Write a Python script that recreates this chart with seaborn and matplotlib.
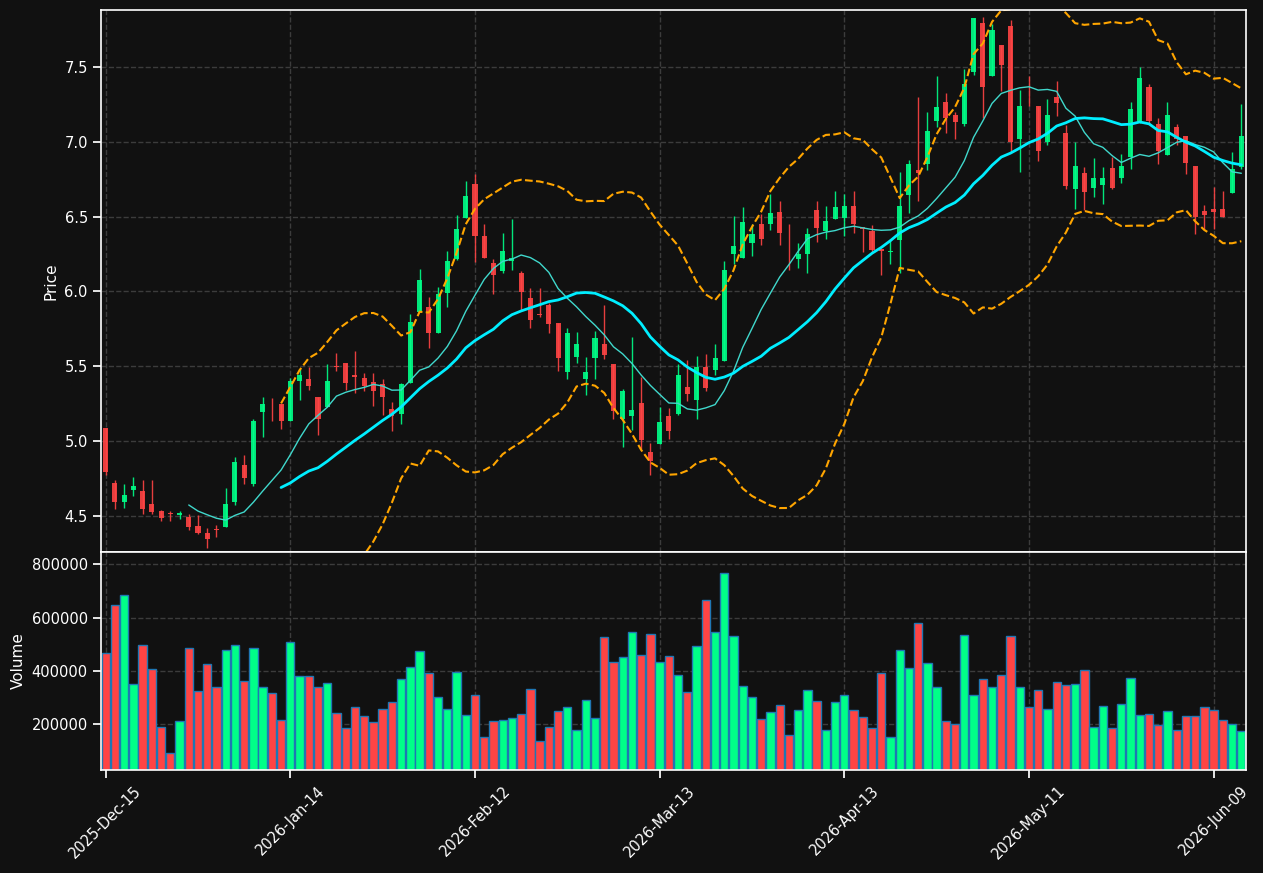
import numpy as np
import pandas as pd
import seaborn as sns
import matplotlib
matplotlib.use("Agg")
import matplotlib.pyplot as plt

# Data (one candle per trading day)

tick_labels = ["2025-Dec-15", "2026-Jan-14", "2026-Feb-12", "2026-Mar-13",
               "2026-Apr-13", "2026-May-11", "2026-Jun-09"]

opens = [5.087, 4.72, 4.591, 4.671, 4.669, 4.576, 4.529, 4.518, 4.504, 4.489,
         4.429, 4.382, 4.409, 4.424, 4.591, 4.842, 4.711, 5.191, 5.229, 5.249,
         5.131, 5.398, 5.416, 5.296, 5.227, 5.502, 5.522, 5.442, 5.422, 5.393,
         5.382, 5.216, 5.182, 5.391, 5.864, 5.896, 5.724, 5.991, 6.218, 6.491,
         6.716, 6.369, 6.189, 6.138, 6.204, 6.122, 5.956, 5.849, 5.909, 5.789,
         5.458, 5.564, 5.416, 5.558, 5.649, 5.513, 5.144, 5.169, 5.253, 4.927,
         4.982, 5.167, 5.182, 5.36, 5.276, 5.493, 5.476, 5.533, 6.247, 6.222,
         6.327, 6.451, 6.449, 6.533, 6.327, 6.216, 6.249, 6.547, 6.407, 6.482,
         6.489, 6.573, 6.429, 6.407, 6.284, 6.262, 6.347, 6.642, 6.811, 6.849,
         7.136, 7.264, 7.182, 7.116, 7.464, 7.796, 7.442, 7.649, 7.776, 7.016,
         7.309, 7.242, 6.998, 7.302, 7.056, 6.684, 6.793, 6.691, 6.711, 6.822,
         6.758, 6.898, 7.136, 7.369, 7.116, 6.911, 7.102, 7.04, 6.84, 6.54,
         6.553, 6.553, 6.658, 6.831]

highs = [5.09, 4.742, 4.713, 4.76, 4.736, 4.742, 4.536, 4.529, 4.533, 4.509,
         4.507, 4.42, 4.44, 4.687, 4.893, 4.907, 5.147, 5.293, 5.287, 5.249,
         5.42, 5.48, 5.498, 5.296, 5.516, 5.587, 5.522, 5.602, 5.453, 5.453,
         5.416, 5.264, 5.391, 5.847, 6.147, 5.96, 6.031, 6.267, 6.513, 6.738,
         6.787, 6.453, 6.22, 6.393, 6.487, 6.136, 6.02, 6.02, 5.924, 5.789,
         5.753, 5.727, 5.564, 5.733, 5.907, 5.513, 5.351, 5.698, 5.431, 4.989,
         5.224, 5.222, 5.518, 5.54, 5.571, 5.58, 5.651, 6.204, 6.504, 6.564,
         6.451, 6.518, 6.651, 6.602, 6.451, 6.324, 6.424, 6.604, 6.569, 6.673,
         6.651, 6.673, 6.432, 6.447, 6.284, 6.351, 6.8, 6.88, 7.3, 7.198,
         7.44, 7.324, 7.198, 7.487, 7.829, 7.833, 7.787, 7.649, 7.813, 7.344,
         7.438, 7.242, 7.287, 7.404, 7.113, 6.998, 6.831, 6.891, 6.833, 6.898,
         6.92, 7.267, 7.5, 7.387, 7.16, 7.267, 7.116, 7.04, 6.84, 6.58,
         6.698, 6.673, 6.933, 7.253]

lows = [4.776, 4.547, 4.553, 4.631, 4.513, 4.513, 4.467, 4.467, 4.48, 4.407,
        4.378, 4.287, 4.36, 4.424, 4.573, 4.713, 4.698, 5.027, 5.133, 5.08,
        5.131, 5.271, 5.338, 5.038, 5.227, 5.471, 5.342, 5.32, 5.333, 5.236,
        5.176, 5.064, 5.113, 5.391, 5.864, 5.624, 5.724, 5.893, 6.209, 6.491,
        6.198, 6.224, 5.98, 6.12, 6.142, 5.876, 5.753, 5.831, 5.72, 5.471,
        5.413, 5.52, 5.307, 5.413, 5.547, 5.149, 4.962, 5.073, 4.949, 4.771,
        4.982, 5.011, 5.171, 5.269, 5.144, 5.336, 5.442, 5.533, 6.184, 6.222,
        6.238, 6.311, 6.411, 6.307, 6.144, 6.158, 6.124, 6.329, 6.351, 6.482,
        6.369, 6.389, 6.262, 6.262, 6.107, 6.18, 6.124, 6.524, 6.607, 6.811,
        7.096, 7.062, 7.016, 7.104, 7.447, 7.158, 7.442, 7.338, 6.931, 6.8,
        7.242, 6.873, 6.98, 7.173, 6.687, 6.553, 6.542, 6.631, 6.587, 6.682,
        6.724, 6.82, 7.124, 7.124, 6.853, 6.911, 6.976, 6.782, 6.382, 6.409,
        6.42, 6.498, 6.658, 6.82]

closes = [4.791, 4.591, 4.636, 4.702, 4.544, 4.524, 4.484, 4.511, 4.516, 4.424,
          4.384, 4.344, 4.404, 4.576, 4.862, 4.751, 5.136, 5.249, 5.224, 5.131,
          5.402, 5.442, 5.369, 5.149, 5.402, 5.498, 5.391, 5.431, 5.369, 5.333,
          5.291, 5.164, 5.382, 5.793, 6.076, 5.724, 5.982, 6.202, 6.416, 6.636,
          6.371, 6.224, 6.111, 6.269, 6.224, 5.998, 5.811, 5.844, 5.784, 5.558,
          5.722, 5.649, 5.462, 5.689, 5.578, 5.202, 5.333, 5.207, 5.007, 4.867,
          5.127, 5.069, 5.44, 5.316, 5.493, 5.356, 5.553, 6.14, 6.304, 6.464,
          6.384, 6.349, 6.527, 6.389, 6.322, 6.247, 6.387, 6.422, 6.473, 6.567,
          6.573, 6.449, 6.42, 6.28, 6.269, 6.273, 6.573, 6.853, 6.789, 7.073,
          7.233, 7.162, 7.131, 7.387, 7.829, 7.364, 7.749, 7.516, 6.998, 7.242,
          7.304, 6.938, 7.176, 7.258, 6.702, 6.836, 6.664, 6.756, 6.756, 6.691,
          6.84, 7.222, 7.429, 7.136, 6.938, 7.182, 7.022, 6.858, 6.498, 6.511,
          6.531, 6.498, 6.82, 7.04]

volumes = [468000, 646000, 684000, 349000, 496000, 406000, 187000, 90000, 210000, 485000,
           323000, 424000, 339000, 477000, 496000, 362000, 485000, 338000, 315000, 214000,
           507000, 379000, 379000, 339000, 353000, 240000, 184000, 263000, 229000, 206000,
           255000, 282000, 368000, 413000, 473000, 391000, 300000, 255000, 394000, 233000,
           308000, 150000, 210000, 214000, 221000, 236000, 330000, 135000, 187000, 248000,
           263000, 176000, 289000, 221000, 526000, 432000, 451000, 545000, 458000, 537000,
           432000, 455000, 383000, 319000, 492000, 665000, 545000, 767000, 530000, 342000,
           300000, 218000, 244000, 270000, 157000, 251000, 327000, 285000, 176000, 282000,
           308000, 251000, 225000, 184000, 391000, 150000, 477000, 409000, 579000, 428000,
           338000, 210000, 199000, 534000, 308000, 368000, 338000, 383000, 530000, 338000,
           263000, 327000, 255000, 357000, 345000, 349000, 402000, 187000, 266000, 184000,
           274000, 372000, 233000, 236000, 195000, 248000, 176000, 229000, 229000, 263000,
           251000, 214000, 199000, 172000]

df = pd.DataFrame({"open": opens, "high": highs, "low": lows,
                   "close": closes, "volume": volumes})
df["x"] = np.arange(len(df))
df["ma10"] = df["close"].rolling(10).mean()
df["ma20"] = df["close"].rolling(20).mean()
std20 = df["close"].rolling(20).std(ddof=0)
df["bb_up"] = df["ma20"] + 2 * std20
df["bb_low"] = df["ma20"] - 2 * std20

up = df["close"] >= df["open"]
bg = "#111111"
green = "#00ff88"
red = "#ff4444"

sns.set_theme(style="dark", rc={
    "axes.facecolor": bg, "figure.facecolor": bg,
    "axes.edgecolor": "white", "axes.labelcolor": "white",
    "text.color": "white", "xtick.color": "white", "ytick.color": "white",
    "xtick.bottom": True, "ytick.left": True,
    "axes.grid": True, "grid.color": "#3c3c3c", "grid.linestyle": "--",
    "grid.linewidth": 1.0, "axes.linewidth": 1.2,
    "xtick.labelsize": 10.5, "ytick.labelsize": 10.5, "axes.labelsize": 11,
})

fig = plt.figure(figsize=(12.63, 8.73), dpi=100)
gs = fig.add_gridspec(2, 1, height_ratios=[542, 218], hspace=0,
                      left=0.08, right=0.9865, top=0.9885, bottom=0.118)
ax = fig.add_subplot(gs[0])
axv = fig.add_subplot(gs[1], sharex=ax)

# candles
cols = np.where(up, green, red)
ax.vlines(df["x"], df["low"], df["high"], colors=cols, linewidth=1, alpha=0.9)
body = (df["close"] - df["open"]).abs().clip(lower=0.004)
ax.bar(df["x"], body, bottom=df[["open", "close"]].min(axis=1),
       width=0.55, color=cols, alpha=0.9, linewidth=0)

# moving averages and bollinger bands
sns.lineplot(data=df, x="x", y="ma10", ax=ax, color="#40d8cc", linewidth=1, estimator=None)
sns.lineplot(data=df, x="x", y="ma20", ax=ax, color="#00eeff", linewidth=2, estimator=None)
sns.lineplot(data=df, x="x", y="bb_up", ax=ax, color="orange", linewidth=1.5,
             linestyle="--", estimator=None)
sns.lineplot(data=df, x="x", y="bb_low", ax=ax, color="orange", linewidth=1.5,
             linestyle="--", estimator=None)

ax.set_ylim(4.258, 7.881)
ax.set_ylabel("Price")
ax.set_xlabel("")
ax.tick_params(axis="x", labelbottom=False)

# volume
axv.bar(df["x"], df["volume"], width=0.9, color=cols, edgecolor="#1f77b4", linewidth=1)
axv.set_axisbelow(True)
axv.set_ylim(27000, 847000)
axv.set_ylabel("Volume")
axv.ticklabel_format(style="plain", axis="y")

ticks = list(range(0, len(df), 20))
axv.set_xticks(ticks)
axv.set_xticklabels(tick_labels, rotation=45)
axv.set_xlim(-0.5, len(df) - 0.5)

fig.savefig("out.png", dpi=100, facecolor=bg)
